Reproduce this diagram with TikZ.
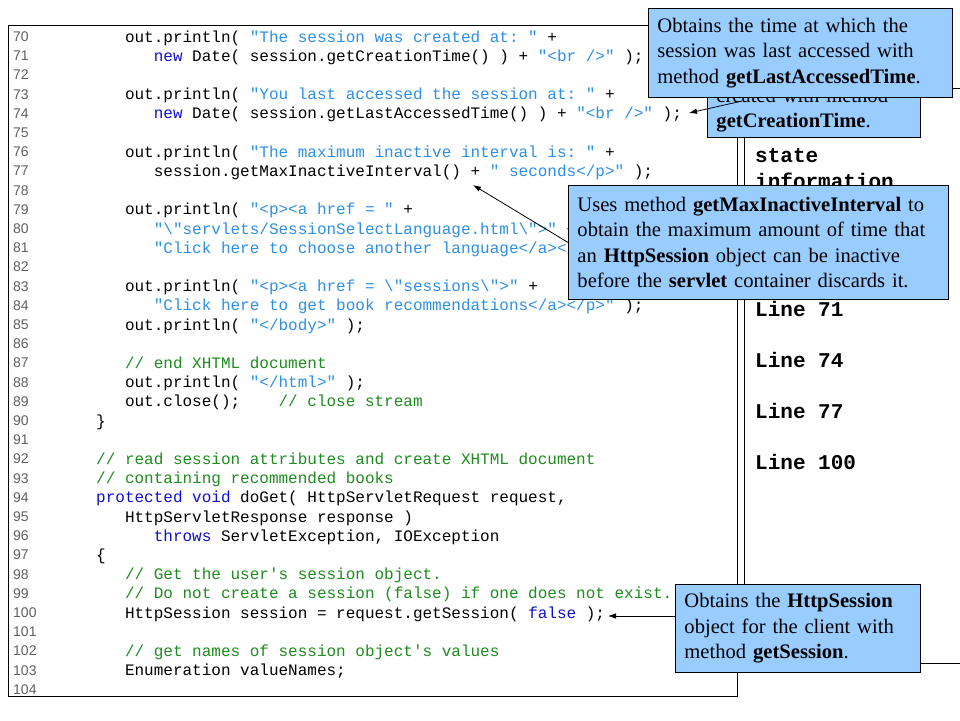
\documentclass[tikz,border=0pt]{standalone}
\usepackage{fontspec}
\setmainfont{Liberation Serif}
\setsansfont{Liberation Sans}
\setmonofont{Liberation Mono}
\usetikzlibrary{arrows.meta}
\definecolor{kwblue}{HTML}{1010C8}
\definecolor{strblue}{HTML}{2E8FE6}
\definecolor{cmgreen}{HTML}{1E8C1E}
\definecolor{callfill}{HTML}{99CCFF}
\definecolor{numgray}{HTML}{606060}
\newcommand\kw[1]{\textcolor{kwblue}{#1}}
\newcommand\st[1]{\textcolor{strblue}{#1}}
\newcommand\cm[1]{\textcolor{cmgreen}{#1}}
\newcommand\codeline[3]{%
  \node[lnum] (n#1) at (13,{38+(#1-70)*19.2}) {#1};
  \node[code] (c#1) at ({96+#2*9.6},{38+(#1-70)*19.2}) {#3};}
\newcommand\numline[1]{%
  \node[lnum] (n#1) at (13,{38+(#1-70)*19.2}) {#1};}
\frenchspacing
\begin{document}
\begin{tikzpicture}[x=1pt,y=-1pt,
  lnum/.style={anchor=west,inner sep=0pt,text height=10pt,text depth=3pt,
    font=\sffamily\fontsize{14}{16}\selectfont,text=numgray},
  code/.style={anchor=west,inner sep=0pt,text height=11pt,text depth=3pt,
    font=\ttfamily\fontsize{16}{18}\selectfont},
  panel/.style={anchor=west,inner sep=0pt,text height=14pt,text depth=4pt,
    font=\ttfamily\bfseries\fontsize{21}{24}\selectfont},
  callout/.style={draw=black,line width=0.9pt,fill=callfill,anchor=north west,
    inner xsep=9pt,inner ysep=0pt,align=left,
    font=\rmfamily\fontsize{20.6}{25.6}\selectfont},
  arr/.style={line width=0.8pt,-{Latex[length=8pt,width=5.5pt]}}]
\useasboundingbox (0,0) rectangle (960,720);
\fill[white] (0,0) rectangle (960,720);
% code box
\draw[line width=0.9pt] (8,25) rectangle (737,696);
% right panel
\draw[line width=0.9pt] (965,88) -- (744,88) -- (744,663) -- (965,663);
\node[panel] (pstate) at (755,157) {state};
\node[panel] (pinfo) at (755,183) {information};
\node[panel] (p71) at (755,311) {Line 71};
\node[panel] (p74) at (755,362) {Line 74};
\node[panel] (p77) at (755,413) {Line 77};
\node[panel] (p100) at (755,464) {Line 100};
% code lines
\codeline{70}{3}{out.println( \st{"The session was created at: "} +}
\codeline{71}{6}{\kw{new} Date( session.getCreationTime() ) + \st{"<br />"} );}
\numline{72}
\codeline{73}{3}{out.println( \st{"You last accessed the session at: "} +}
\codeline{74}{6}{\kw{new} Date( session.getLastAccessedTime() ) + \st{"<br />"} );}
\numline{75}
\codeline{76}{3}{out.println( \st{"The maximum inactive interval is: "} +}
\codeline{77}{6}{session.getMaxInactiveInterval() + \st{" seconds</p>"} );}
\numline{78}
\codeline{79}{3}{out.println( \st{"<p><a href = "} +}
\codeline{80}{6}{\st{"\textbackslash"servlets/SessionSelectLanguage.html\textbackslash">"} +}
\codeline{81}{6}{\st{"Click here to choose another language</a></p>"} );}
\numline{82}
\codeline{83}{3}{out.println( \st{"<p><a href = \textbackslash"sessions\textbackslash">"} +}
\codeline{84}{6}{\st{"Click here to get book recommendations</a></p>"} );}
\codeline{85}{3}{out.println( \st{"</body>"} );}
\numline{86}
\codeline{87}{3}{\cm{// end XHTML document}}
\codeline{88}{3}{out.println( \st{"</html>"} );}
\codeline{89}{3}{out.close();\ \ \ \ \cm{// close stream}}
\codeline{90}{0}{\}}
\numline{91}
\codeline{92}{0}{\cm{// read session attributes and create XHTML document}}
\codeline{93}{0}{\cm{// containing recommended books}}
\codeline{94}{0}{\kw{protected void} doGet( HttpServletRequest request,}
\codeline{95}{3}{HttpServletResponse response )}
\codeline{96}{6}{\kw{throws} ServletException, IOException}
\codeline{97}{0}{\{}
\codeline{98}{3}{\cm{// Get the user's session object.}}
\codeline{99}{3}{\cm{// Do not create a session (false) if one does not exist.}}
\codeline{100}{3}{HttpSession session = request.getSession( \kw{false} );}
\numline{101}
\codeline{102}{3}{\cm{// get names of session object's values}}
\codeline{103}{3}{Enumeration valueNames;}
\numline{104}
% callouts
\node[callout,text width=195pt,minimum width=213pt,minimum height=55pt] (ccreate) at (707,82)
  {created with method\\\textbf{getCreationTime}.};
\coordinate (ccreatetail) at (742,101);
\coordinate (t74) at (689,113);
\draw[arr] (ccreatetail) -- (t74);
\node[callout,text width=286pt,minimum width=304pt,minimum height=89pt] (caccess) at (648,8)
  {Obtains the time at which the\\session was last accessed with\\method \textbf{getLastAccessedTime}.};
\node[callout,text width=362pt,minimum width=380pt,minimum height=114pt] (cmax) at (568,185)
  {Uses method \textbf{getMaxInactiveInterval} to\\obtain the maximum amount of time that\\an \textbf{HttpSession} object can be inactive\\before the \textbf{servlet} container discards it.};
\coordinate (t77) at (473,185);
\draw[arr] (cmax.west) -- (t77);
\node[callout,text width=227pt,minimum width=245pt,minimum height=88pt] (csess) at (675,584)
  {Obtains the \textbf{HttpSession}\\object for the client with\\method \textbf{getSession}.};
\coordinate (csesstail) at (675,616);
\coordinate (t100) at (608,616);
\draw[arr] (csesstail) -- (t100);
\end{tikzpicture}
\end{document}
